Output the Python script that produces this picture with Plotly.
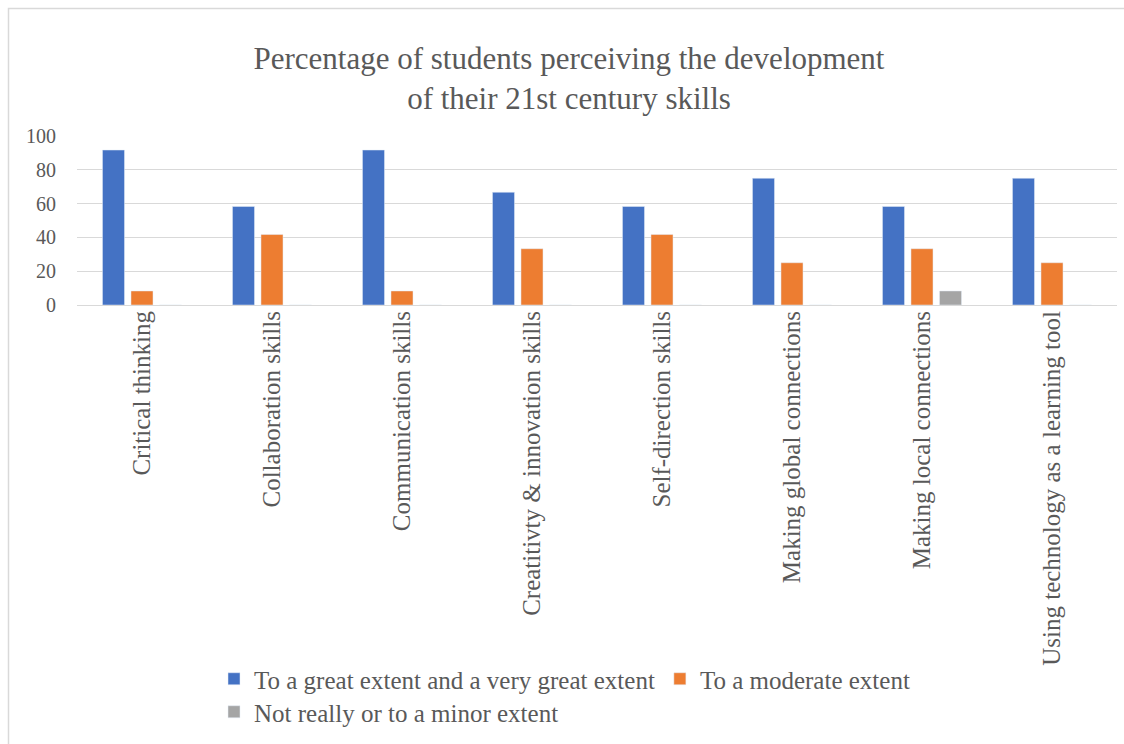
import plotly.graph_objects as go

categories = ["Critical thinking", "Collaboration skills", "Communication skills",
              "Creatitivty & innovation skills", "Self-direction skills",
              "Making global connections", "Making local connections",
              "Using technology as a learning tool"]
great_extent = [91.7, 58.3, 91.7, 66.7, 58.3, 75.0, 58.3, 75.0]
moderate_extent = [8.3, 41.7, 8.3, 33.3, 41.7, 25.0, 33.3, 25.0]
minor_extent = [0, 0, 0, 0, 0, 0, 8.3, 0]
y_ticks = [0, 20, 40, 60, 80, 100]

W, H = 1124, 744
L, R, T, B = 77, 7, 136, 439
pw, ph = W - L - R, H - T - B

def px_x(px):
    return (px - L) / pw

def px_y(py):
    return (H - B - py) / ph

FONT = "Times New Roman, Liberation Serif, serif"
TXT = "#595959"

fig = go.Figure()
fig.add_trace(go.Bar(x=categories, y=great_extent, name="To a great extent and a very great extent",
                     marker_color="#4472C4", legend="legend"))
fig.add_trace(go.Bar(x=categories, y=moderate_extent, name="To a moderate extent",
                     marker_color="#ED7D31", legend="legend"))
fig.add_trace(go.Bar(x=categories, y=minor_extent, name="Not really or to a minor extent",
                     marker_color="#A5A5A5", legend="legend2"))

fig.update_layout(
    width=W, height=H,
    margin=dict(l=L, r=R, t=T, b=B),
    paper_bgcolor="white", plot_bgcolor="white",
    barmode="group", bargap=0.342, bargroupgap=0.228,
    font=dict(family=FONT, color=TXT, size=19),
    title=dict(text="Percentage of students perceiving the development<br>of their 21st century skills",
               x=569 / W, xanchor="center",
               y=1 - 69 / H, yanchor="middle",
               font=dict(family=FONT, size=31, color=TXT)),
    showlegend=True,
    legend=dict(orientation="h", x=214 / W, xref="container", y=1 - 679 / H, yref="container",
                xanchor="left", yanchor="middle",
                font=dict(family=FONT, size=25, color=TXT), traceorder="normal",
                itemwidth=30, bgcolor="rgba(0,0,0,0)"),
    legend2=dict(orientation="h", x=214 / W, xref="container", y=1 - 712 / H, yref="container",
                 xanchor="left", yanchor="middle",
                 font=dict(family=FONT, size=25, color=TXT),
                 itemwidth=30, bgcolor="rgba(0,0,0,0)"),
    xaxis=dict(tickangle=-90, showgrid=False, showline=False, ticks="",
               tickfont=dict(family=FONT, size=25, color=TXT), automargin=False),
    yaxis=dict(range=[0, 100], tickvals=y_ticks, showgrid=True, gridcolor="#D9D9D9",
               gridwidth=1, zeroline=True, zerolinecolor="#D9D9D9", zerolinewidth=1,
               showline=False, ticks="", ticklabelstandoff=20,
               tickfont=dict(family=FONT, size=20, color=TXT),
               automargin=False),
    shapes=[dict(type="rect", xref="paper", yref="paper",
                 x0=px_x(8.5), x1=px_x(1140), y0=px_y(760), y1=px_y(8.5),
                 line=dict(color="#D9D9D9", width=1.5), fillcolor="rgba(0,0,0,0)", layer="below")],
)

fig.write_html("out.html")
